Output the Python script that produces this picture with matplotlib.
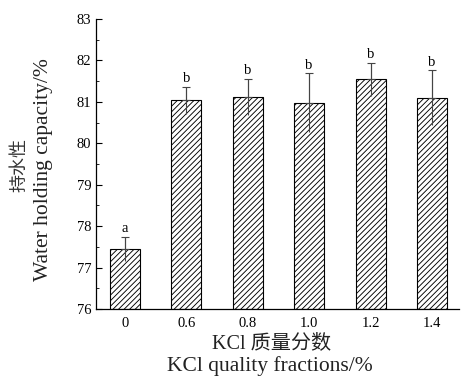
import numpy as np
import matplotlib
matplotlib.use("Agg")
import matplotlib.pyplot as plt

plt.rcParams['font.family'] = ['Liberation Serif', 'Noto Sans CJK SC']
plt.rcParams['hatch.linewidth'] = 0.65

#%% DATA
kcl = ['0', '0.6', '0.8', '1.0', '1.2', '1.4']
whc_mean = [77.45, 81.04, 81.12, 80.98, 81.54, 81.10]
whc_err = [0.30, 0.33, 0.44, 0.71, 0.40, 0.66]
sig = ['a', 'b', 'b', 'b', 'b', 'b']

#%% PLOT
W, H = 464, 379
fig = plt.figure(figsize=(W / 100, H / 100), dpi=100)
ax = fig.add_axes([96 / W, 1 - 309 / H, 363 / W, 290 / H])

x = np.arange(len(kcl))
ax.bar(x, np.array(whc_mean) - 76, bottom=76, width=0.49, color='white',
       edgecolor='black', hatch='//////', linewidth=0.8)
# whisker through the bar, cap only on top
ax.errorbar(x, whc_mean, yerr=whc_err, fmt='none', ecolor='#444444',
            elinewidth=0.8, capsize=0)
ax.errorbar(x, whc_mean, yerr=[np.zeros(len(x)), whc_err], fmt='none',
            ecolor='#444444', elinewidth=0.8, capsize=3, capthick=0.8)

for xi, m, e, s in zip(x, whc_mean, whc_err, sig):
    ax.text(xi, m + e + 0.04, s, ha='center', va='bottom', fontsize=10.5)

ax.set_xlim(-0.47, 5.44)
ax.set_ylim(76, 83)
ax.set_xticks(x)
ax.set_xticklabels(kcl)
ax.set_yticks(np.arange(76, 84, 1))
ax.set_yticks(np.arange(76, 83, 0.5), minor=True)
ax.tick_params(axis='y', which='major', direction='in', length=4, width=0.8, labelsize=10.5)
ax.tick_params(axis='y', which='minor', direction='in', length=2, width=0.6)
ax.tick_params(axis='x', length=0, labelsize=10.5, pad=6)

ax.spines['top'].set_visible(False)
ax.spines['right'].set_visible(False)
ax.spines['left'].set_linewidth(0.9)
ax.spines['bottom'].set_linewidth(0.9)

# axis titles, Chinese line above the English one
fig.text(20 / W, 1 - 165 / H, '持水性', rotation=90, ha='center', va='center',
         fontsize=13, color='#333333')
fig.text(44 / W, 1 - 170 / H, 'Water holding capacity/%', rotation=90,
         ha='center', va='center', fontsize=15.5, color='#222222')
fig.text(272 / W, 1 - 344 / H, 'KCl 质量分数', ha='center', va='center',
         fontsize=14.5, color='#222222')
fig.text(270 / W, 1 - 366 / H, 'KCl quality fractions/%', ha='center', va='center',
         fontsize=15.5, color='#222222')

fig.savefig('out.png', dpi=100)
